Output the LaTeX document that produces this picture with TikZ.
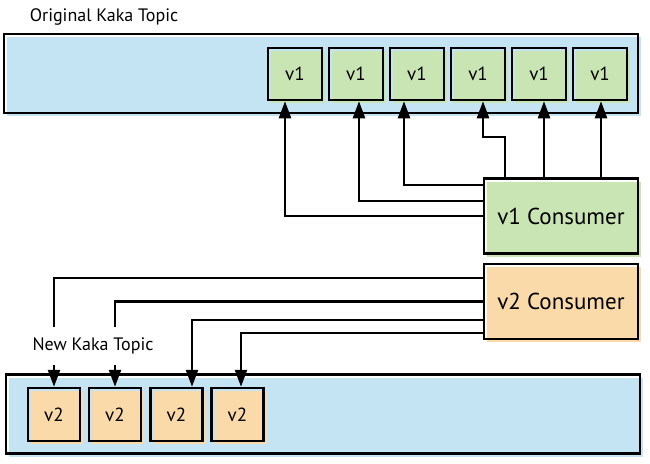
\documentclass[tikz,border=0pt]{standalone}
\usepackage{fontspec}
\setmainfont{PT Sans}
\usetikzlibrary{arrows.meta,shadows}
\definecolor{topicblue}{RGB}{197,228,243}
\definecolor{oldgreen}{RGB}{201,229,179}
\definecolor{neworange}{RGB}{251,218,170}

\begin{document}
\begin{tikzpicture}[x=1pt,y=-1pt,
  offfill/.style={draw,line width=2.5pt,general shadow={fill=#1,shadow xshift=3pt,shadow yshift=-3pt}},
  topic/.style={offfill=topicblue,minimum width=634pt,minimum height=79pt},
  msgA/.style={offfill=oldgreen,minimum width=54pt,minimum height=52pt,font=\fontsize{19}{21}\selectfont},
  msgB/.style={offfill=neworange,minimum width=52pt,minimum height=53pt,font=\fontsize{19}{21}\selectfont},
  consumer/.style={offfill=#1,minimum width=154pt,minimum height=75pt,font=\fontsize{23}{26}\selectfont},
  caption/.style={anchor=base,font=\fontsize{18}{20}\selectfont},
  feed/.style={-{Triangle[length=17pt,width=12pt]},line width=2.4pt}]
\useasboundingbox (0,0) rectangle (650,463);

\node[topic] (oldtopic) at (321,73.5) {};
\node[topic] (newtopic) at (323,414) {};
\node[caption] (oldlabel) at (104,21) {Original Kaka Topic};

\node[msgA] (vA) at (295,74) {v1};
\node[msgA] (vB) at (356,74) {v1};
\node[msgA] (vC) at (417,74) {v1};
\node[msgA] (vD) at (478,74) {v1};
\node[msgA] (vE) at (539,74) {v1};
\node[msgA] (vF) at (600,74) {v1};

\node[msgB] (wA) at (54,414.5) {v2};
\node[msgB] (wB) at (115,414.5) {v2};
\node[msgB] (wC) at (176.5,414.5) {v2};
\node[msgB] (wD) at (237.5,414.5) {v2};

\node[consumer=oldgreen] (v1con) at (561,216) {v1 Consumer};
\node[consumer=neworange] (v2con) at (561,301.5) {v2 Consumer};

% v1 consumer reads the old topic
\draw[feed] (v1con.west) -| ([xshift=-10pt]vA.south);
\draw[feed] ([yshift=15pt]v1con.west) -| ([xshift=3pt]vB.south);
\draw[feed] ([yshift=31pt]v1con.west) -| ([xshift=-13pt]vC.south);
\draw[feed] ([xshift=-56pt]v1con.north) -- ++(0,-40) -| ([xshift=5pt]vD.south);
\draw[feed] ([xshift=-17pt]v1con.north) -- ([xshift=-17pt]v1con.north |- vE.south);
\draw[feed] ([xshift=40pt]v1con.north) -- ([xshift=40pt]v1con.north |- vF.south);

% v2 consumer writes the new topic
\draw[feed] ([yshift=23.5pt]v2con.west) -| (wA.north);
\draw[feed] (v2con.west) -| (wB.north);
\draw[feed] ([yshift=-18.5pt]v2con.west) -| ([xshift=15.5pt]wC.north);
\draw[feed] ([yshift=-31.5pt]v2con.west) -| ([xshift=3.5pt]wD.north);

\node[caption,fill=white,minimum height=38pt,inner xsep=2pt,anchor=center] (newlabel) at (93,346) {New Kaka Topic};
\end{tikzpicture}
\end{document}
